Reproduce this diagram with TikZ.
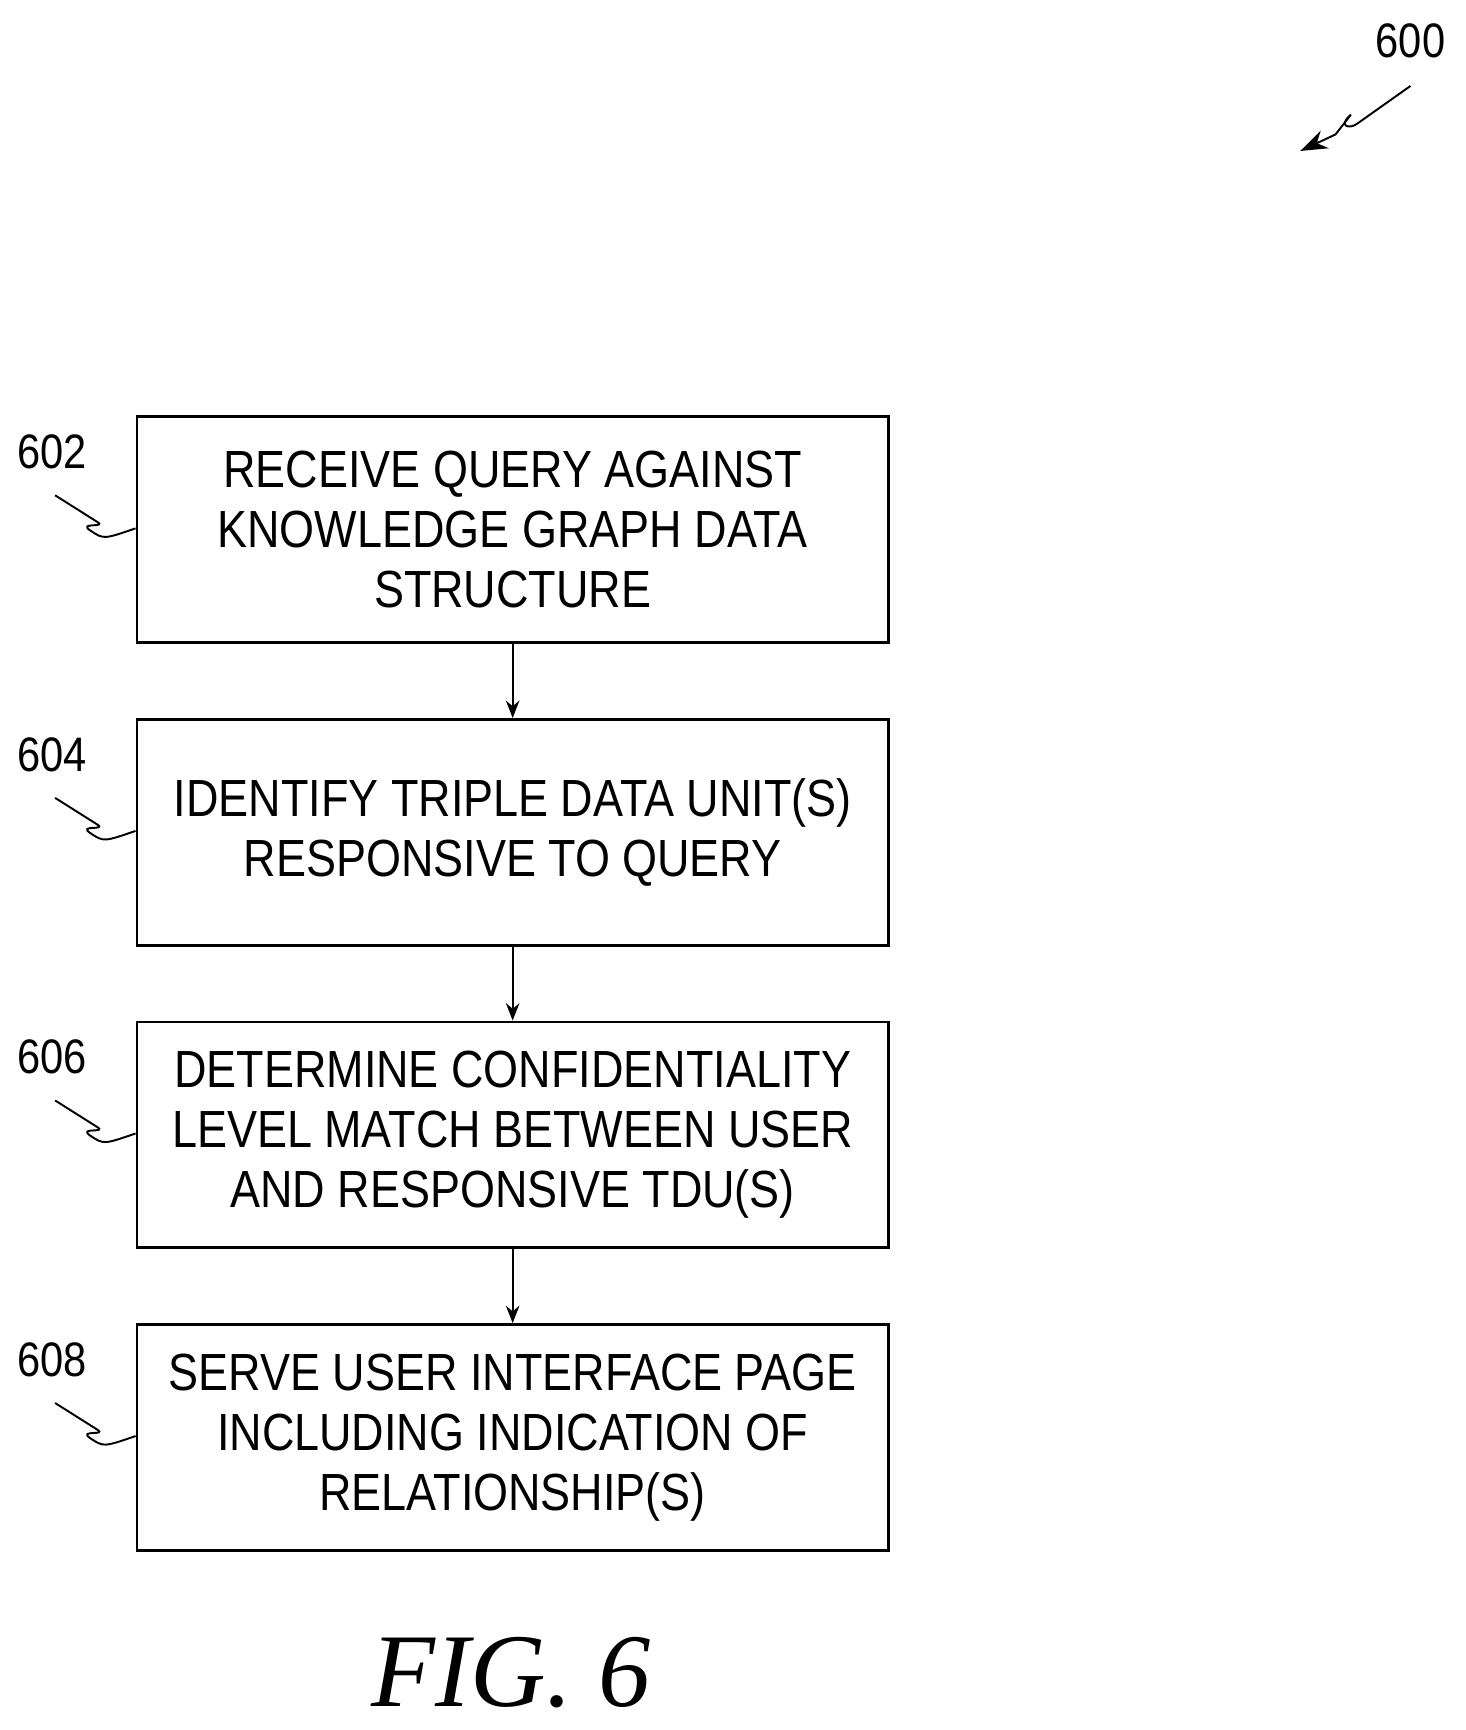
\documentclass[tikz,border=0pt]{standalone}
\usepackage{fontspec}
\setmainfont{Liberation Sans}
\newfontfamily\boxfont[FakeStretch=0.86]{Liberation Sans}
\newfontfamily\figfont{Liberation Serif}
\usetikzlibrary{positioning}
\usetikzlibrary{arrows.meta}
\tikzset{step_box/.style = {draw, line width = 1.5pt, minimum width = 13.64cm, minimum height = 4.1cm, align = center, font = \boxfont\fontsize{27}{31}\selectfont},
         step_label/.style = {font = \boxfont\fontsize{25}{28}\selectfont},
         step_flow/.style = {-{Stealth[length = 9pt, width = 7pt]}, line width = 1pt},
         squiggle/.style = {line width = 1pt}}
\begin{document}
\begin{tikzpicture}[x = 0.02cm, y = -0.02cm]
        \useasboundingbox (0,0) rectangle (1330,1570);
        \node [step_box, anchor = north west] (receive) at (123,377) {RECEIVE QUERY AGAINST\\KNOWLEDGE GRAPH DATA\\STRUCTURE};
        \node [step_box, below = 1.34cm of receive] (identify) {IDENTIFY TRIPLE DATA UNIT(S)\\RESPONSIVE TO QUERY};
        \node [step_box, below = 1.34cm of identify] (determine) {DETERMINE CONFIDENTIALITY\\LEVEL MATCH BETWEEN USER\\AND RESPONSIVE TDU(S)};
        \node [step_box, below = 1.34cm of determine] (serve) {SERVE USER INTERFACE PAGE\\INCLUDING INDICATION OF\\RELATIONSHIP(S)};
        \draw [step_flow] (receive) -- (identify);
        \draw [step_flow] (identify) -- (determine);
        \draw [step_flow] (determine) -- (serve);
        % reference numerals
        \foreach \stepname/\num in {receive/602, identify/604, determine/606, serve/608} {
            \node [step_label] (\stepname-label) at ([xshift = -1.52cm, yshift = -0.66cm] \stepname.north west) {\num};
            \draw [squiggle] ([xshift = -1.46cm, yshift = -1.45cm] \stepname.north west) -- ++(38,24) .. controls ++(10,6) and ++(-12,-8) .. ++(-6,8) .. controls ++(12,8) .. ([yshift = -2.05cm] \stepname.north west);
        }
        \node [step_label] (fig-num) at (1280,37) {600};
        \coordinate (fig-tip) at (1180,137);
        \draw [squiggle] (1280,78) -- (1232,112) .. controls (1224,118) and (1214,114) .. (1226,104) -- (1212,122);
        \draw [line width = 1pt, -{Stealth[length = 14pt, width = 10pt]}] (1212,122) -- (fig-tip);
        \node [font = \figfont\itshape\fontsize{54}{60}\selectfont] (fig-title) at (464,1518) {FIG. 6};
\end{tikzpicture}
\end{document}
